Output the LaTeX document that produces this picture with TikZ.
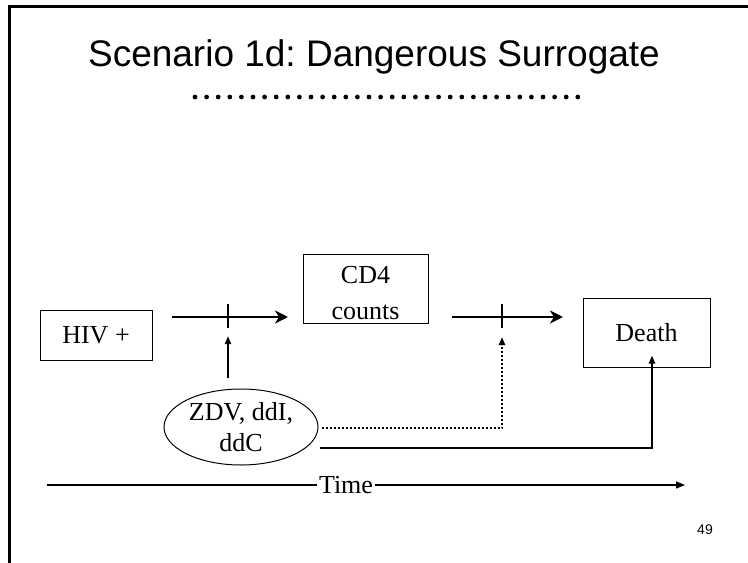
\documentclass[tikz,border=0pt]{standalone}
\usepackage{fontspec}
\setmainfont{Liberation Serif}
\newfontfamily\slidefont{Liberation Sans}
\usetikzlibrary{shapes,arrows.meta,positioning,calc}
\frenchspacing

\begin{document}
\begin{tikzpicture}[
    x=1pt, y=-1pt,
    box/.style={rectangle, draw=black, line width=1pt, align=center, font=\fontsize{26}{37}\selectfont},
    drug/.style={ellipse, draw=black, line width=1pt, align=center, inner sep=0pt, font=\fontsize{26}{31}\selectfont},
    flow/.style={-{Stealth[length=13pt, width=13pt, inset=4pt]}, line width=2.8pt},
    effect/.style={-{Triangle[length=8pt, width=6pt]}, line width=2pt},
    tick/.style={line width=2.8pt},
]
\useasboundingbox (0,0) rectangle (748,563);

% Frame
\draw[line width=3pt] (9,563) -- (9,6) -- (748,6);

% Title
\node[font=\slidefont\fontsize{37}{40}\selectfont] (title) at (374,57) {Scenario 1d: Dangerous Surrogate};
\foreach \i in {0,...,33}
    \fill (195+\i*11.6,97) circle (2.4);

% Boxes
\node[box, minimum width=112, minimum height=50] (hiv) at (96,335) {HIV +};
\node[box, inner ysep=0pt, minimum width=125, minimum height=69] (cd4) at (365.5,288.5) {\rule{0pt}{27pt}CD4\\[-1pt]counts};
\node[box, minimum width=127, minimum height=69] (death) at (646.5,332.5) {Death};
\node[drug, minimum width=154, minimum height=76] (drugs) at (241,427) {ZDV, ddI,\\ddC};

% Points on the paths
\coordinate (a1) at (172,317);
\coordinate (b1) at (288,317);
\coordinate (x1) at (228,317);
\coordinate (a2) at (452,317);
\coordinate (b2) at (563,317);
\coordinate (x2) at (502,317);
\coordinate (d1) at (502,428);
\coordinate (d2) at (652,448);

% Main arrows with crossings
\draw[flow] (a1) -- (b1);
\draw[tick] ($(x1)+(0,-13)$) -- ($(x1)+(0,11)$);
\draw[flow] (a2) -- (b2);
\draw[tick] ($(x2)+(0,-13)$) -- ($(x2)+(0,11)$);

% Drug effects
\draw[effect] ($(x1)+(0,61)$) -- ($(x1)+(0,19)$);
\draw[effect, dotted] ([xshift=3]drugs.east |- d1) -- (d1) -- ($(x2)+(0,20)$);
\draw[effect, line width=2.8pt] ([xshift=1]drugs.east |- d2) -- (d2) -- ([yshift=12]death.south -| d2);

% Time axis
\node[font=\fontsize{26}{28}\selectfont, inner sep=2pt] (time) at (346,485) {Time};
\coordinate (t0) at (47,485);
\coordinate (t1) at (685,485);
\draw[line width=1.2pt] (t0) -- (time);
\draw[-{Triangle[length=9pt, width=7pt]}, line width=1.2pt] (time) -- (t1);

% Slide number
\node[font=\slidefont\fontsize{14}{16}\selectfont] (num) at (705,530) {49};

\end{tikzpicture}
\end{document}
